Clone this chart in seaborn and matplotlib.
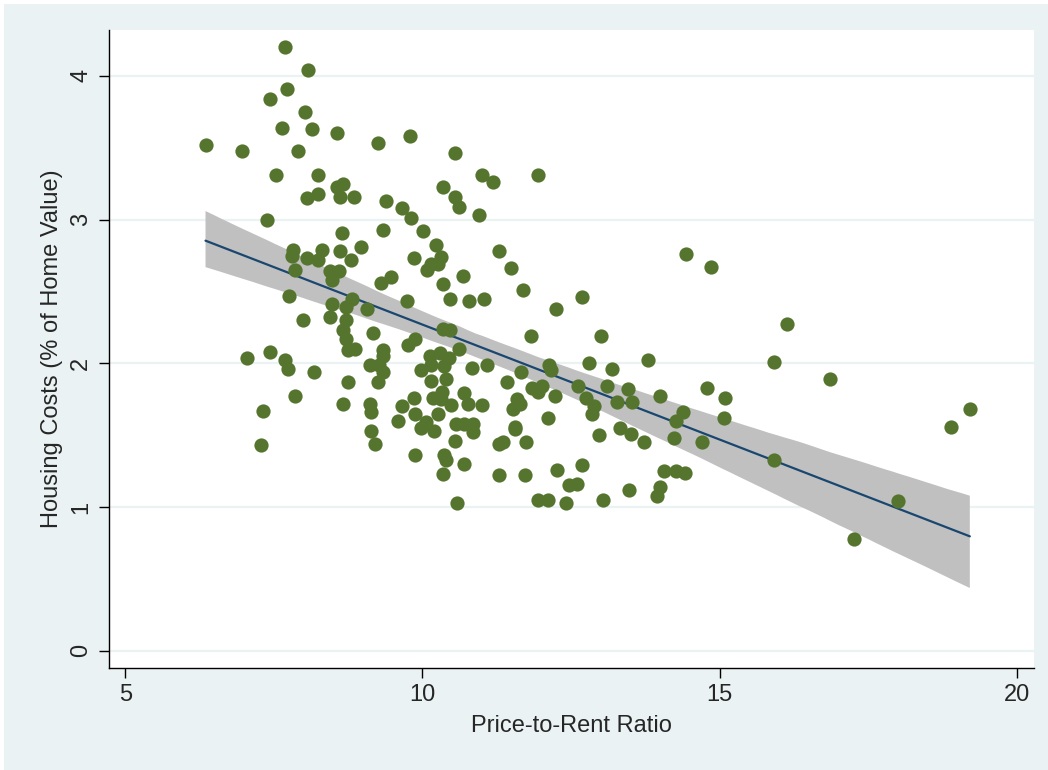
import pandas as pd
import matplotlib.pyplot as plt
from matplotlib.patches import Rectangle
import seaborn as sns

# price-to-rent ratio vs housing costs, one entry per metro
price_to_rent = [
    7.68, 8.07, 7.72, 7.43, 8.02, 7.64, 8.14, 8.57, 6.35, 6.97, 7.90, 7.53, 8.25, 8.57, 8.67,
    8.24, 8.05, 8.62, 8.84, 7.39, 8.64,
    7.82, 7.80, 8.31, 8.05, 8.24, 8.61, 8.80, 8.96, 7.86, 8.44, 8.59, 8.48, 7.75, 8.81, 8.47,
    8.72, 7.99, 8.45, 8.72, 8.67, 8.72, 8.74, 8.87, 7.05, 7.43, 7.68, 7.73, 8.18, 8.74, 7.85,
    8.67, 7.31, 7.29,
    9.25, 9.79, 10.54, 11.00, 11.19, 10.35, 10.55, 10.62, 9.39, 9.66, 9.80, 10.96, 9.33, 10.01,
    10.23, 9.85, 10.32, 10.15, 10.08, 10.27, 11.28, 10.69, 9.47, 9.31, 10.35,
    9.07, 9.74, 10.46, 10.78, 11.03, 10.35, 10.47, 9.16, 9.75, 9.87, 10.62, 9.33, 9.33, 9.11,
    9.27, 9.33, 9.26, 10.12, 10.29, 10.45, 9.98, 10.15, 10.37, 10.15, 10.40, 10.83, 11.08,
    9.85, 9.65, 9.59, 9.87, 10.17, 10.33, 10.31, 10.48, 10.27, 10.70, 10.77, 11.01, 10.06,
    9.98, 10.20, 10.56, 10.70, 10.85, 10.85, 10.55, 9.12, 9.14, 9.14, 9.21, 9.88, 10.36,
    10.40, 10.34, 10.70, 10.58, 11.29, 11.28,
    11.95, 11.49, 11.69, 12.69, 12.24, 11.82, 13.01,
    12.13, 12.17, 12.81, 13.19, 13.80, 11.65, 11.43, 11.85, 12.02, 11.95, 12.23, 12.61, 13.11,
    13.46, 13.52, 13.28, 12.75, 12.89, 12.85, 11.59, 11.64, 11.52, 12.11, 11.56, 11.56, 11.36,
    11.75, 12.97, 13.32, 13.51, 13.72, 11.72, 12.27, 12.68, 12.46, 12.60, 11.94, 12.12, 12.42,
    13.03, 13.47,
    14.44, 14.85, 16.13, 15.91, 16.86, 14.78, 14.00, 15.09, 14.38, 14.26, 15.08, 14.23, 14.70,
    15.91, 14.06, 14.26, 14.42, 14.00, 13.94,
    19.21, 18.89, 18.01, 17.26,
]
housing_costs = [
    4.20, 4.04, 3.91, 3.84, 3.75, 3.64, 3.63, 3.60, 3.52, 3.48, 3.48, 3.31, 3.31, 3.23, 3.25,
    3.18, 3.15, 3.16, 3.16, 3.00, 2.91,
    2.79, 2.75, 2.79, 2.73, 2.72, 2.78, 2.72, 2.81, 2.65, 2.64, 2.64, 2.58, 2.47, 2.45, 2.41,
    2.39, 2.30, 2.32, 2.30, 2.23, 2.17, 2.09, 2.10, 2.04, 2.08, 2.02, 1.96, 1.94, 1.87, 1.77,
    1.72, 1.67, 1.43,
    3.53, 3.58, 3.46, 3.31, 3.26, 3.23, 3.16, 3.09, 3.13, 3.08, 3.01, 3.03, 2.93, 2.92,
    2.82, 2.73, 2.74, 2.69, 2.65, 2.69, 2.78, 2.61, 2.60, 2.56, 2.55,
    2.38, 2.43, 2.45, 2.43, 2.45, 2.24, 2.23, 2.21, 2.13, 2.17, 2.10, 2.09, 2.05, 1.99,
    1.99, 1.94, 1.87, 2.05, 2.07, 2.04, 1.95, 1.99, 1.98, 1.88, 1.89, 1.97, 1.99,
    1.76, 1.70, 1.60, 1.65, 1.76, 1.80, 1.75, 1.71, 1.65, 1.79, 1.72, 1.71, 1.59,
    1.55, 1.53, 1.58, 1.58, 1.58, 1.52, 1.46, 1.72, 1.66, 1.53, 1.44, 1.36, 1.36,
    1.33, 1.23, 1.30, 1.03, 1.44, 1.22,
    3.31, 2.66, 2.51, 2.46, 2.38, 2.19, 2.19,
    1.99, 1.95, 2.00, 1.96, 2.02, 1.94, 1.87, 1.83, 1.84, 1.80, 1.77, 1.84, 1.84,
    1.82, 1.73, 1.73, 1.76, 1.70, 1.65, 1.75, 1.72, 1.68, 1.62, 1.56, 1.54, 1.45,
    1.45, 1.50, 1.55, 1.51, 1.45, 1.22, 1.26, 1.29, 1.15, 1.16, 1.05, 1.05, 1.03,
    1.05, 1.12,
    2.76, 2.67, 2.27, 2.01, 1.89, 1.83, 1.77, 1.76, 1.66, 1.60, 1.62, 1.48, 1.45,
    1.33, 1.25, 1.25, 1.24, 1.14, 1.08,
    1.68, 1.56, 1.04, 0.78,
]

x_ticks = [5, 10, 15, 20]
y_ticks = [0, 1, 2, 3, 4]

df = pd.DataFrame({'ratio': price_to_rent, 'costs': housing_costs})

sns.set_style('white')
plt.rcParams['font.family'] = ['Liberation Sans', 'DejaVu Sans']
plt.rcParams['font.size'] = 17

bg = '#eaf2f3'
fig = plt.figure(figsize=(10.48, 7.7), dpi=100)
fig.patch.set_facecolor('white')
fig.patches.append(Rectangle((4 / 1048, 0), 1, (770 - 4) / 770, transform=fig.transFigure,
                             facecolor=bg, edgecolor='none', zorder=-10))

ax = fig.add_axes([109 / 1048, (770 - 667.7) / 770, (1034 - 109) / 1048, (667.7 - 30) / 770])
ax.set_facecolor('white')

sns.regplot(data=df, x='ratio', y='costs', scatter=False, ci=95, n_boot=2000, seed=3,
            color='#1a476f', line_kws={'linewidth': 1.6, 'zorder': 3}, ax=ax)
# stata style opaque grey band
band = ax.collections[0]
band.set_facecolor('#c0c0c0')
band.set_alpha(1)
band.set_edgecolor('none')
band.set_zorder(2)

sns.scatterplot(data=df, x='ratio', y='costs', color='#55752f', s=105, linewidth=0,
                zorder=4, ax=ax)

ax.set_xlim(4.726, 20.29)
ax.set_ylim(-0.118, 4.319)
ax.set_xticks(x_ticks)
ax.set_yticks(y_ticks)
ax.set_yticklabels([str(v) for v in y_ticks], rotation=90, va='center')
ax.yaxis.grid(True, color=bg, linewidth=1.6, zorder=0)
ax.xaxis.grid(False)
ax.set_axisbelow(True)

for side in ['top', 'right']:
    ax.spines[side].set_visible(False)
for side in ['left', 'bottom']:
    ax.spines[side].set_color('black')
    ax.spines[side].set_linewidth(1)

ax.tick_params(axis='both', direction='out', length=7, width=1, color='black',
               labelsize=17, pad=5, left=True, bottom=True)
ax.set_xlabel('Price-to-Rent Ratio', fontsize=17, labelpad=6)
ax.set_ylabel('Housing Costs (% of Home Value)', fontsize=17, labelpad=5)

plt.savefig('out.png', dpi=100, facecolor=fig.get_facecolor())
